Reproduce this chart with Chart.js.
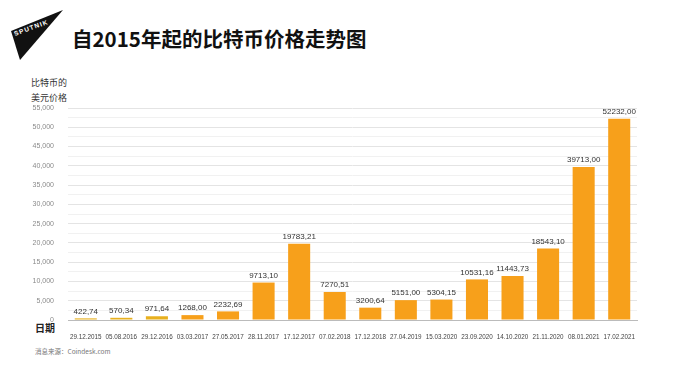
<!DOCTYPE html>
<html>
<head>
<meta charset="utf-8">
<script src="https://cdn.jsdelivr.net/npm/chart.js@4"></script>
<style>
    body { margin: 0; width: 685px; height: 370px; background: #fff; position: relative; overflow: hidden; font-family: "Liberation Sans", Arial, sans-serif; }
    #c { position: absolute; left: 0; top: 0; }
    .t { position: absolute; white-space: nowrap; }
</style>
</head>
<body>
<svg class="t" style="left:0;top:0" width="70" height="64">
    <polygon points="63,10 11,31 20,60" fill="#111"/>
    <text x="15" y="36" transform="rotate(-20 15 36)" fill="#fff" font-size="6.5" font-weight="bold" font-family="Liberation Sans" textLength="35">SPUTNIK</text>
</svg>
<div class="t" style="left:72px;top:28px;font:bold 20.5px/1 'Noto Sans CJK SC';color:#111">自2015年起的比特币价格走势图</div>
<div class="t" style="left:31px;top:75px;font:9px/15px 'Noto Sans CJK SC';color:#333">比特币的<br>美元价格</div>
<div class="t" style="left:35px;top:323px;font:600 10px/1 'Noto Sans CJK SC';color:#222">日期</div>
<div class="t" style="left:35px;top:348px;font:6.5px/1 'Noto Sans CJK SC';color:#777">消息来源：Coindesk.com</div>
<canvas id="c" width="685" height="370"></canvas>
<script>
const dates = ['29.12.2015','05.08.2016','29.12.2016','03.03.2017','27.05.2017','28.11.2017','17.12.2017','07.02.2018',
               '17.12.2018','27.04.2019','15.03.2020','23.09.2020','14.10.2020','21.11.2020','08.01.2021','17.02.2021'];
const prices = [422.74, 570.34, 971.64, 1268.00, 2232.69, 9713.10, 19783.21, 7270.51,
                3200.64, 5151.00, 5304.15, 10531.16, 11443.73, 18543.10, 39713.00, 52232.00];
const barColors = ['#E8B01E','#E8B01E','#E8B01E','#F7A01B','#F7A01B','#F7A01B','#F7A01B','#F7A01B',
                   '#F7A01B','#F7A01B','#F7A01B','#F7A01B','#F7A01B','#F7A01B','#F7A01B','#F7A01B'];
const yMax = 55000;
const yStep = 2500;
const yLabelStep = 5000;

// numbers above the bars, with a decimal comma like the original
const valueLabels = {
    id: 'valueLabels',
    afterDatasetsDraw(chart) {
        const ctx = chart.ctx;
        const meta = chart.getDatasetMeta(0);
        ctx.save();
        ctx.font = '8px "Liberation Sans", Arial, sans-serif';
        ctx.fillStyle = '#333';
        ctx.textAlign = 'center';
        ctx.textBaseline = 'bottom';
        meta.data.forEach((bar, i) => {
            ctx.fillText(prices[i].toFixed(2).replace('.', ','), bar.x, bar.y - 3);
        });
        ctx.restore();
    }
};

new Chart(document.getElementById('c'), {
    type: 'bar',
    data: {
        labels: dates,
        datasets: [{ data: prices, backgroundColor: barColors, barPercentage: 0.62, categoryPercentage: 1 }]
    },
    options: {
        responsive: false,
        animation: false,
        layout: { padding: { left: 0, right: 48, top: 108, bottom: 0 } },
        plugins: { legend: { display: false }, tooltip: { enabled: false } },
        scales: {
            x: {
                grid: { display: false },
                border: { color: '#bbb' },
                ticks: { color: '#444', font: { size: 6.3 }, padding: 5, maxRotation: 0, autoSkip: false },
                afterFit(s) { s.height = 50; }
            },
            y: {
                min: 0, max: yMax,
                border: { display: false },
                grid: {
                    drawTicks: false,
                    color: c => c.tick.value % yLabelStep === 0 ? '#e4e4e4' : '#f1f1f1'
                },
                ticks: {
                    stepSize: yStep, autoSkip: false, padding: 14, color: '#8a8a8a', font: { size: 7 },
                    callback: v => v % yLabelStep === 0 ? v.toLocaleString('en-US') : ''
                },
                afterFit(s) { s.width = 68; }
            }
        }
    },
    plugins: [valueLabels]
});
</script>
</body>
</html>
